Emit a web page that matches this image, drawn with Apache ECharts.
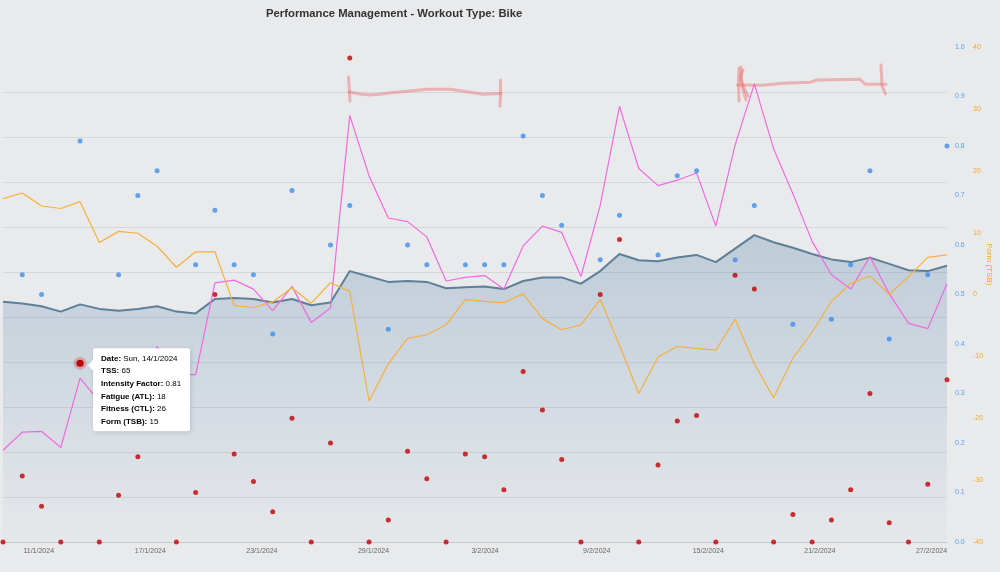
<!DOCTYPE html>
<html>
<head>
<meta charset="utf-8">
<script src="https://cdn.jsdelivr.net/npm/echarts@6/dist/echarts.min.js"></script>
<style>
html,body{margin:0;padding:0;background:#e9eaec;}
#c{width:1000px;height:572px;}
</style>
</head>
<body>
<div id="c"></div>
<script>
// ---------- data ----------
const dates = ['10/1/2024','11/1/2024','12/1/2024','13/1/2024','14/1/2024','15/1/2024','16/1/2024','17/1/2024','18/1/2024','19/1/2024',
  '20/1/2024','21/1/2024','22/1/2024','23/1/2024','24/1/2024','25/1/2024','26/1/2024','27/1/2024','28/1/2024','29/1/2024',
  '30/1/2024','31/1/2024','1/2/2024','2/2/2024','3/2/2024','4/2/2024','5/2/2024','6/2/2024','7/2/2024','8/2/2024',
  '9/2/2024','10/2/2024','11/2/2024','12/2/2024','13/2/2024','14/2/2024','15/2/2024','16/2/2024','17/2/2024','18/2/2024',
  '19/2/2024','20/2/2024','21/2/2024','22/2/2024','23/2/2024','24/2/2024','25/2/2024','26/2/2024','27/2/2024','28/2/2024'];
const xTickLabels = ['11/1/2024','17/1/2024','23/1/2024','29/1/2024','3/2/2024','9/2/2024','15/2/2024','21/2/2024','27/2/2024'];
const tss = [0,24,13,0,65,0,17,31,43,0,18,90,32,22,11,45,0,36,176,0,8,33,23,0,32,31,19,62,48,30,0,90,110,0,28,44,46,0,97,92,0,10,0,8,19,54,7,0,21,59];
const intensity = [null,0.54,0.50,null,0.81,null,0.54,0.70,0.75,null,0.56,0.67,0.56,0.54,0.42,0.71,null,0.60,0.68,null,
  0.43,0.60,0.56,null,0.56,0.56,0.56,0.82,0.70,0.64,null,0.57,0.66,null,0.58,0.74,0.75,null,0.57,0.68,
  null,0.44,null,0.45,0.56,0.75,0.41,null,0.54,0.80];
const fatigue = [10.2,12.2,12.3,10.5,18.2,15.6,15.9,18.1,21.7,18.6,18.6,28.8,29.1,28.1,25.7,28.4,24.4,26.0,47.4,40.7,
  36.0,35.6,33.9,29.0,29.4,29.6,28.1,32.9,35.1,34.4,29.5,37.4,48.4,41.5,39.6,40.2,41.0,35.1,44.1,50.9,
  43.7,38.7,33.4,29.7,28.1,31.7,27.6,24.3,23.7,28.7];
const fitness = [26.7,26.5,26.2,25.6,26.4,25.9,25.7,25.9,26.2,25.6,25.4,27.0,27.1,27.0,26.6,27.0,26.3,26.6,30.1,29.5,
  28.9,29.0,28.9,28.2,28.3,28.4,28.1,29.0,29.4,29.4,28.7,30.1,32.0,31.3,31.2,31.6,31.9,31.1,32.6,34.1,
  33.3,32.7,32.0,31.4,31.1,31.6,30.9,30.2,30.1,30.7];
const form = [15.5,16.4,14.3,13.9,15.0,8.4,10.2,9.9,7.8,4.4,6.9,6.9,-1.8,-2.1,-1.2,1.1,-1.4,1.9,0.5,-17.2,
  -11.2,-7.1,-6.5,-4.9,-0.8,-1.1,-1.3,0.1,-3.9,-5.7,-4.9,-0.8,-8.2,-16.0,-10.1,-8.4,-8.7,-9.0,-4.0,-11.2,
  -16.7,-10.3,-6.1,-1.1,1.8,3.0,0.0,2.9,6.0,6.4];
const tooltipIndex = 4;

// ---------- chart ----------
const FONT = '"Liberation Sans", Arial, Helvetica, sans-serif';
const C = {
  tss: '#c00000', ifc: '#3d8ee8', atl: '#f06ae0', ctl: '#5d7f98', tsb: '#f5b03e',
  grid: '#d5d7da', axis: '#c6c8cb', label: '#666'
};
const chart = echarts.init(document.getElementById('c'), null, {renderer: 'canvas'});

const option = {
  backgroundColor: '#e9eaec',
  animation: false,
  textStyle: {fontFamily: FONT},
  title: {
    text: 'Performance Management - Workout Type: Bike',
    left: 261, top: 3,
    textStyle: {fontSize: 11.3, fontWeight: 'bold', color: '#333', fontFamily: FONT}
  },
  grid: {left: 3, right: 53, top: 47, bottom: 30, containLabel: false, outerBoundsMode: 'none'},
  xAxis: [
    {
      type: 'category', data: dates, boundaryGap: false,
      axisLine: {lineStyle: {color: C.axis, width: 1}},
      axisTick: {show: false}, axisLabel: {show: false}, splitLine: {show: false}
    },
    {
      type: 'value', position: 'bottom', min: -0.32, max: 8.139,
      axisLine: {show: false}, axisTick: {show: false}, splitLine: {show: false},
      axisLabel: {
        customValues: xTickLabels.map((d, i) => i),
        formatter: v => xTickLabels[Math.round(v)] || '',
        fontSize: 7, color: C.label, margin: 6, fontFamily: FONT
      }
    }
  ],
  yAxis: [
    {type: 'value', min: 0, max: 180, show: false},
    {
      type: 'value', position: 'right', min: 0, max: 1, interval: 0.1,
      axisLine: {show: false}, axisTick: {show: false}, splitLine: {show: false},
      axisLabel: {color: '#5aa0f0', fontSize: 7, margin: 8, fontFamily: FONT, formatter: v => v.toFixed(1)}
    },
    {
      type: 'value', position: 'right', offset: 18, min: -40, max: 40, interval: 10,
      name: 'Form (TSB)', nameLocation: 'middle', nameRotate: -90, nameGap: 20, nameMoveOverlap: false,
      nameTextStyle: {color: '#f5a623', fontSize: 8, fontFamily: FONT, padding: [0, 60, 0, 0]},
      axisLine: {show: false}, axisTick: {show: false}, splitLine: {show: false},
      axisLabel: {color: '#f5a623', fontSize: 7, margin: 8, fontFamily: FONT}
    },
    {
      type: 'value', position: 'left', min: 0, max: 55, interval: 5,
      axisLine: {show: false}, axisTick: {show: false}, axisLabel: {show: false},
      splitLine: {show: true, showMinLine: false, showMaxLine: false, lineStyle: {color: C.grid, width: 1}}
    }
  ],
  series: [
    {
      name: 'Fitness (CTL)', type: 'line', xAxisIndex: 0, yAxisIndex: 3, data: fitness,
      symbol: 'none', lineStyle: {color: C.ctl, width: 2},
      areaStyle: {
        color: new echarts.graphic.LinearGradient(0, 0, 0, 1, [
          {offset: 0, color: 'rgba(100,140,175,0.46)'},
          {offset: 1, color: 'rgba(100,140,175,0.04)'}
        ])
      },
      z: 1
    },
    {
      name: 'Fatigue (ATL)', type: 'line', xAxisIndex: 0, yAxisIndex: 3, data: fatigue,
      symbol: 'none', lineStyle: {color: C.atl, width: 1.2}, z: 3
    },
    {
      name: 'Form (TSB)', type: 'line', xAxisIndex: 0, yAxisIndex: 2, data: form,
      symbol: 'none', lineStyle: {color: C.tsb, width: 1.2}, z: 3
    },
    {
      name: 'Intensity Factor', type: 'scatter', xAxisIndex: 0, yAxisIndex: 1, data: intensity,
      symbolSize: 5, itemStyle: {color: C.ifc}, z: 4
    },
    {
      name: 'TSS', type: 'scatter', xAxisIndex: 0, yAxisIndex: 0, data: tss,
      symbolSize: 5, itemStyle: {color: C.tss}, z: 5
    }
  ]
};
chart.setOption(option);

// ---------- tooltip (static, at the hovered point) + annotations ----------
const dayNames = ['Sun','Mon','Tue','Wed','Thu','Fri','Sat'];
const dp = dates[tooltipIndex].split('/').map(Number);
const dayName = dayNames[new Date(dp[2], dp[1] - 1, dp[0]).getDay()];
const pt = chart.convertToPixel({xAxisIndex: 0, yAxisIndex: 0}, [tooltipIndex, tss[tooltipIndex]]);
const bx = pt[0] + 13, by = pt[1] - 15, bw = 97, bh = 83;
const fmt = v => (v === null ? '-' : String(v));
const ttText = [
  '{dl|Date:} {v|' + dayName + ', ' + dates[tooltipIndex] + '}',
  '{tl|TSS:} {v|' + fmt(tss[tooltipIndex]) + '}',
  '{il|Intensity Factor:} {v|' + intensity[tooltipIndex].toFixed(2) + '}',
  '{al|Fatigue (ATL):} {v|' + Math.round(fatigue[tooltipIndex]) + '}',
  '{cl|Fitness (CTL):} {v|' + Math.round(fitness[tooltipIndex]) + '}',
  '{fl|Form (TSB):} {v|' + Math.round(form[tooltipIndex]) + '}'
].join('\n');
const lh = 12.6;
const rs = (color, bold) => ({color: color, fontSize: 8, fontWeight: bold ? 'bold' : 'normal', lineHeight: lh, fontFamily: FONT});

const pen = {stroke: 'rgba(238,110,110,0.45)', lineWidth: 3, lineCap: 'round', lineJoin: 'round', fill: null};
const ann = (pts) => ({type: 'polyline', shape: {points: pts}, style: pen, z: 50, silent: true});

chart.setOption({
  graphic: [
    {type: 'circle', shape: {cx: pt[0], cy: pt[1], r: 6.5}, style: {fill: 'rgba(196,0,0,0.22)'}, z: 60, silent: true},
    {type: 'circle', shape: {cx: pt[0], cy: pt[1], r: 3.6}, style: {fill: C.tss}, z: 61, silent: true},
    {type: 'rect', shape: {x: bx, y: by, width: bw, height: bh, r: 2},
      style: {fill: '#ffffff', shadowBlur: 4, shadowColor: 'rgba(0,0,0,0.15)', shadowOffsetX: 1, shadowOffsetY: 1}, z: 70, silent: true},
    {type: 'polygon', shape: {points: [[bx - 5, pt[1] + 2], [bx + 0.5, pt[1] - 4], [bx + 0.5, pt[1] + 8]]},
      style: {fill: '#ffffff'}, z: 71, silent: true},
    {type: 'text', x: bx + 8, y: by + 4, z: 72, silent: true,
      style: {
        text: ttText, fontSize: 8, lineHeight: lh, fontFamily: FONT,
        rich: {
          dl: rs('#555555', true), tl: rs('#d0242a', true), il: rs('#3d8ee8', true),
          al: rs('#ec4fdc', true), cl: rs('#4e6e88', true), fl: rs('#f5a623', true),
          v: rs('#333333', false)
        }
      }
    },
    ann([[348.5, 77], [349.5, 92], [350, 101]]),
    ann([[349, 92], [360, 94], [370, 95], [382, 94], [393, 92.5], [410, 91], [427, 89.3], [450, 89.3], [467, 91.7], [483, 94.3], [501, 93.5]]),
    ann([[500.5, 80], [500.5, 93], [500, 106]]),
    ann([[739, 68], [738.5, 85], [739, 101]]),
    ann([[741, 67], [742, 86], [746, 100]]),
    ann([[743, 70], [740, 78], [745, 90], [748, 96]]),
    ann([[737.5, 85], [763, 85.3], [783, 83.3], [810, 82.3], [817, 80], [860, 79.3], [865, 84.3], [886, 84.3]]),
    ann([[881, 65], [882, 86], [885.5, 94]])
  ]
});
</script>
</body>
</html>
